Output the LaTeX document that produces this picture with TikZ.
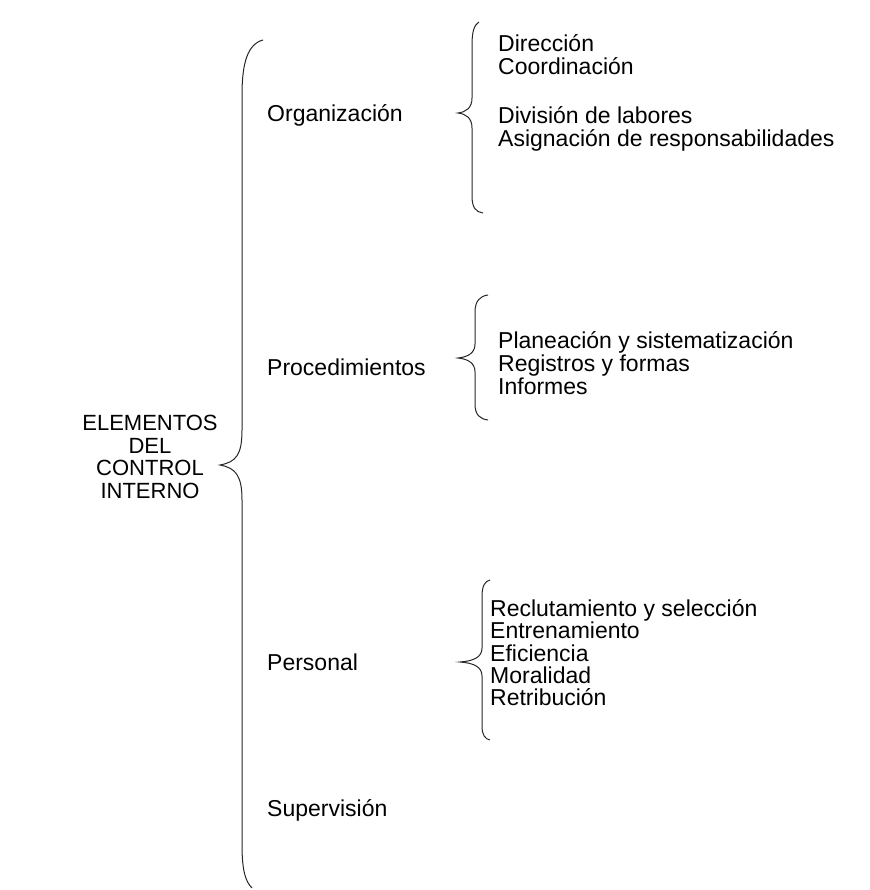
\documentclass[tikz,border=0pt]{standalone}
\usepackage{fontspec}
\setmainfont{Liberation Sans}
\begin{document}
\begin{tikzpicture}[x=1pt,y=-1pt,
  lbl/.style={anchor=west,inner sep=0pt,text height=16pt,text depth=5pt,yshift=-3pt,font=\fontsize{23}{25}\selectfont},
  brace/.style={draw=black!85,line width=1pt}]
\useasboundingbox (0,0) rectangle (869,890);
% main label
\node[inner sep=0pt,align=center,font=\fontsize{22}{22.5}\selectfont] (root) at (150,457)
  {ELEMENTOS\\DEL\\CONTROL\\INTERNO};
% big brace
\coordinate (bt) at (263,40);
\coordinate (btip) at (220,465);
\coordinate (bb) at (252,888);
\draw[brace] (bt) .. controls (248,44) and (242,62) .. (242,95) -- (242,430)
  .. controls (242,455) and (236,462) .. (btip)
  .. controls (236,468) and (242,476) .. (242,500) -- (242,845)
  .. controls (242,872) and (246,882) .. (bb);
% second level
\node[lbl] (org) at (267,113) {Organización};
\node[lbl] (proc) at (267,367) {Procedimientos};
\node[lbl] (pers) at (267,662) {Personal};
\node[lbl] (sup) at (267,808) {Supervisión};
% brace 1
\coordinate (t1) at (479,22);
\coordinate (tip1) at (458,113);
\coordinate (b1) at (483,213);
\draw[brace] (t1) .. controls (474,25) and (472,32) .. (472,45) -- (472,98)
  .. controls (472,108) and (466,112) .. (tip1)
  .. controls (466,114) and (472,118) .. (472,128) -- (472,196)
  .. controls (472,208) and (476,212) .. (b1);
\node[lbl] (d1) at (498,43) {Dirección};
\node[lbl] (d2) at (498,66) {Coordinación};
\node[lbl] (d3) at (498,115) {División de labores};
\node[lbl] (d4) at (498,138) {Asignación de responsabilidades};
% brace 2
\coordinate (t2) at (488,295);
\coordinate (tip2) at (458,358);
\coordinate (b2) at (488,420);
\draw[brace] (t2) .. controls (480,296) and (475,301) .. (475,312) -- (475,344)
  .. controls (475,353) and (468,357) .. (tip2)
  .. controls (468,359) and (475,363) .. (475,372) -- (475,404)
  .. controls (475,415) and (480,419) .. (b2);
\node[lbl] (p1) at (498,340) {Planeación y sistematización};
\node[lbl] (p2) at (498,363) {Registros y formas};
\node[lbl] (p3) at (498,386) {Informes};
% brace 3
\coordinate (t3) at (490,580);
\coordinate (tip3) at (460,662);
\coordinate (b3) at (490,740);
\draw[brace] (t3) .. controls (485,581) and (482,586) .. (482,596) -- (482,648)
  .. controls (482,657) and (474,661) .. (tip3)
  .. controls (474,663) and (482,667) .. (482,676) -- (482,726)
  .. controls (482,735) and (485,739) .. (b3);
\node[lbl] (r1) at (490,608) {Reclutamiento y selección};
\node[lbl] (r2) at (490,630) {Entrenamiento};
\node[lbl] (r3) at (490,653) {Eficiencia};
\node[lbl] (r4) at (490,675) {Moralidad};
\node[lbl] (r5) at (490,697) {Retribución};
\end{tikzpicture}
\end{document}
